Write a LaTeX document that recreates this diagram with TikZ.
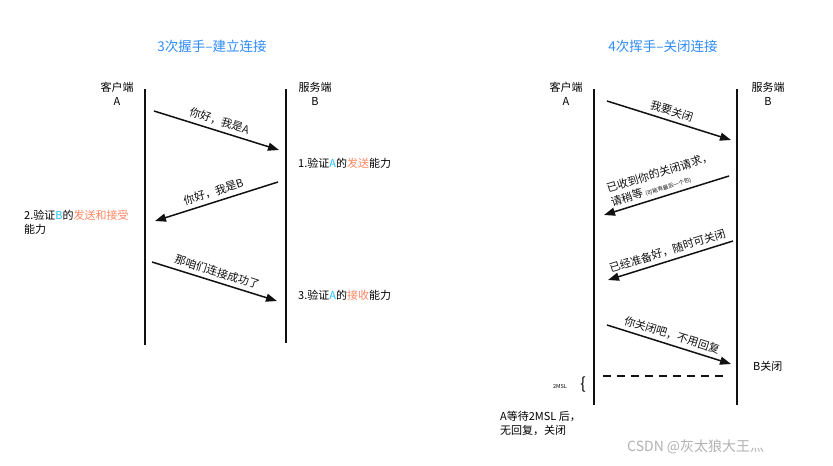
\documentclass[tikz,border=0pt]{standalone}
\usepackage{fontspec}
\setmainfont{Noto Sans CJK SC}
\usetikzlibrary{arrows.meta,positioning}
\definecolor{ttlblue}{HTML}{2F8CF9}
\definecolor{hla}{HTML}{22C3F3}
\definecolor{hlo}{HTML}{FF8663}
\definecolor{ink}{HTML}{111111}
\newcommand{\hA}[1]{\textcolor{hla}{#1}}
\newcommand{\hO}[1]{\textcolor{hlo}{#1}}

\begin{document}
\begin{tikzpicture}[x=1pt,y=-1pt,
      font=\fontsize{11}{14}\selectfont,
      life/.style={ink,line width=1.8pt},
      msg/.style={ink,line width=1.5pt,-{Triangle[length=11pt,width=8pt]}},
      lbl/.style={sloped,above,inner sep=4pt},
      hd/.style={align=center,inner sep=0pt},
      note/.style={anchor=west,inner sep=0pt,align=left},
      ttl/.style={ttlblue,font=\fontsize{13.5}{15}\selectfont}]
    \useasboundingbox[fill=white] (0,0) rectangle (833,466);
    % left: 3-way handshake
    \node[ttl] (t1) at (212,46) {3次握手–建立连接};
    \node[hd] (ca1) at (117,94) {客户端\\A};
    \node[hd] (sb1) at (315,94) {服务端\\B};
    \coordinate (a1t) at (145,89); \coordinate (a1b) at (145,345);
    \coordinate (b1t) at (286,89); \coordinate (b1b) at (286,343);
    \draw[life] (a1t) -- (a1b); \draw[life] (b1t) -- (b1b);
    \coordinate (s1) at (154,111); \coordinate (e1) at (279,150);
    \coordinate (s2) at (278,182); \coordinate (e2) at (155,221);
    \coordinate (s3) at (152,262); \coordinate (e3) at (277,301);
    \draw[msg] (s1) -- node[lbl] {你好，我是A} (e1);
    \draw[msg] (s2) -- node[lbl] {你好，我是B} (e2);
    \draw[msg] (s3) -- node[lbl] {那咱们连接成功了} (e3);
    \node[note] (n1) at (298,163) {1.验证\hA{A}的\hO{发送}能力};
    \node[note,anchor=north west] (n2) at (24,210) {2.验证\hA{B}的\hO{发送和接受}\\能力};
    \node[note] (n3) at (298,295) {3.验证\hA{A}的\hO{接收}能力};
    % right: 4-way wave
    \node[ttl] (t2) at (663,46) {4次挥手–关闭连接};
    \node[hd] (ca2) at (566,94) {客户端\\A};
    \node[hd] (sb2) at (768,94) {服务端\\B};
    \coordinate (a2t) at (594,89); \coordinate (a2b) at (594,405);
    \coordinate (b2t) at (737,89); \coordinate (b2b) at (737,405);
    \draw[life] (a2t) -- (a2b); \draw[life] (b2t) -- (b2b);
    \coordinate (s4) at (607,101); \coordinate (e4) at (731,140);
    \coordinate (s5) at (729,176); \coordinate (e5) at (604,215);
    \coordinate (s6) at (733,241); \coordinate (e6) at (608,280);
    \coordinate (s7) at (607,325); \coordinate (e7) at (731,364);
    \draw[msg] (s4) -- node[lbl] {我要关闭} (e4);
    \draw[msg] (s5) -- node[lbl,align=left] {已收到你的关闭请求，\\请稍等 {\fontsize{5.5}{6}\selectfont(可能有最后一个包)}} (e5);
    \draw[msg] (s6) -- node[lbl] {已经准备好，随时可关闭} (e6);
    \draw[msg] (s7) -- node[lbl] {你关闭吧，不用回复} (e7);
    \node[note] (bc) at (753,366) {B关闭};
    \coordinate (w0) at (603,376); \coordinate (w1) at (728,376);
    \draw[ink,line width=1.5pt,dash pattern=on 8pt off 6pt] (w0) -- (w1);
    \node[inner sep=0pt,font=\fontsize{5.5}{6}\selectfont] (msl) at (560,386) {2MSL};
    \node[inner sep=0pt,font=\fontsize{16}{16}\selectfont] (br) at (583,385) {\{};
    \node[note,anchor=north west] (wt) at (500,411) {A等待2MSL 后，\\无回复，关闭};
    \node[anchor=west,inner sep=0pt,black!30,font=\fontsize{14}{16}\selectfont] (wm) at (627,447) {CSDN @灰太狼大王灬};
\end{tikzpicture}
\end{document}
